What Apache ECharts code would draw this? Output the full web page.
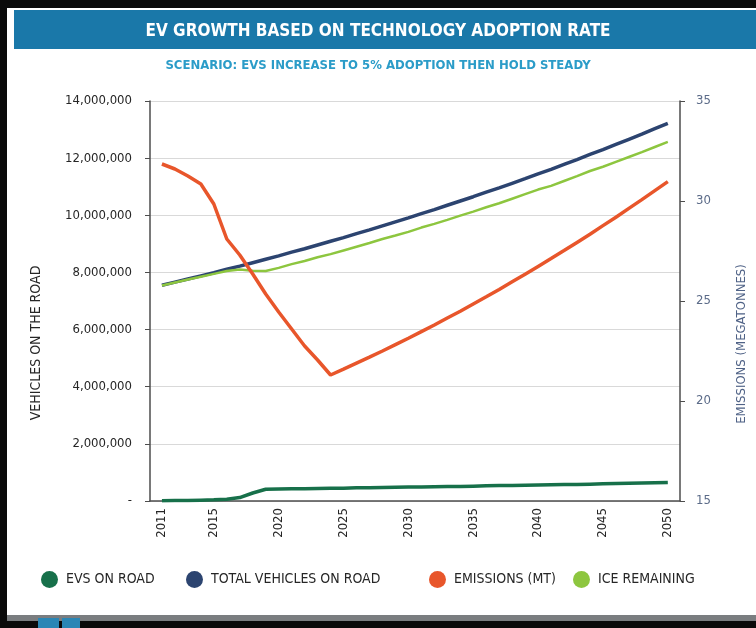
<!DOCTYPE html>
<html>
<head>
<meta charset="utf-8">
<script src="https://cdn.jsdelivr.net/npm/echarts@6/dist/echarts.min.js"></script>
<style>
html,body{margin:0;padding:0;background:#fff;}
#chart{width:756px;height:628px;}
</style>
</head>
<body>
<div id="chart"></div>
<script>
const titleText = 'EV GROWTH BASED ON TECHNOLOGY ADOPTION RATE';
const subtitleText = 'SCENARIO: EVS INCREASE TO 5% ADOPTION THEN HOLD STEADY';
const seriesNames = ['EVS ON ROAD', 'TOTAL VEHICLES ON ROAD', 'EMISSIONS (MT)', 'ICE REMAINING'];

const years = [2011,2012,2013,2014,2015,2016,2017,2018,2019,2020,
               2021,2022,2023,2024,2025,2026,2027,2028,2029,2030,
               2031,2032,2033,2034,2035,2036,2037,2038,2039,2040,
               2041,2042,2043,2044,2045,2046,2047,2048,2049,2050];
const xTickYears = [2011,2015,2020,2025,2030,2035,2040,2045,2050];

const evsOnRoad = [10000,15000,20000,30000,40000,60000,120000,280000,410000,420000,
                   430000,430000,440000,450000,450000,460000,460000,470000,480000,490000,
                   490000,500000,510000,510000,520000,530000,540000,540000,550000,560000,
                   570000,580000,580000,590000,600000,610000,620000,630000,640000,650000];
const totalVehicles = [7550000,7660000,7770000,7880000,7990000,8110000,8220000,8340000,8460000,8580000,
                       8710000,8830000,8960000,9090000,9220000,9360000,9490000,9630000,9770000,9910000,
                       10060000,10200000,10350000,10500000,10650000,10810000,10960000,11120000,11280000,11450000,
                       11610000,11780000,11950000,12130000,12300000,12480000,12660000,12840000,13030000,13220000];
const emissionsMt = [31.85,31.6,31.25,30.85,29.85,28.1,27.3,26.35,25.35,24.45,
                     23.6,22.75,22.05,21.3,21.59,21.89,22.19,22.5,22.82,23.14,
                     23.47,23.8,24.15,24.49,24.85,25.21,25.58,25.96,26.34,26.73,
                     27.12,27.52,27.93,28.34,28.77,29.19,29.63,30.07,30.52,30.97];
const iceRemaining = [7540000,7650000,7750000,7850000,7950000,8050000,8100000,8060000,8050000,8160000,
                      8290000,8400000,8530000,8640000,8770000,8900000,9030000,9170000,9290000,9420000,
                      9570000,9700000,9840000,9990000,10130000,10280000,10420000,10580000,10740000,10900000,
                      11030000,11200000,11370000,11550000,11700000,11870000,12040000,12210000,12390000,12570000];

const leftTicks = {min: 0, max: 14000000, interval: 2000000};
const rightTicks = {min: 15, max: 35, interval: 5};

const colors = ['#17704a', '#2c4470', '#e8562b', '#8dc63f'];
const FONT = "'DejaVu Sans Condensed', 'Liberation Sans Narrow', 'Roboto Condensed', 'DejaVu Sans', sans-serif";

const pair = (arr) => years.map((y, i) => [y, arr[i]]);

const chart = echarts.init(document.getElementById('chart'), null, {renderer: 'canvas'});

const legendLefts = [36, 181, 424, 568];

const option = {
  animation: false,
  backgroundColor: '#ffffff',
  textStyle: {fontFamily: FONT},
  graphic: [
    {type: 'rect', z: 0, shape: {x: 0, y: 0, width: 756, height: 8}, style: {fill: '#0a0a0a'}},
    {type: 'rect', z: 0, shape: {x: 0, y: 0, width: 7, height: 628}, style: {fill: '#0a0a0a'}},
    {type: 'rect', z: 0, shape: {x: 14, y: 10, width: 742, height: 39}, style: {fill: '#1a78a9'}},
    {type: 'rect', z: 0, shape: {x: 7, y: 615, width: 749, height: 6}, style: {fill: '#7a7d80'}},
    {type: 'rect', z: 0, shape: {x: 0, y: 621, width: 756, height: 7}, style: {fill: '#0a0a0a'}},
    {type: 'rect', z: 1, shape: {x: 38, y: 618, width: 21, height: 10}, style: {fill: '#2a86b5'}},
    {type: 'rect', z: 1, shape: {x: 62, y: 618, width: 18, height: 10}, style: {fill: '#2a86b5'}}
  ],
  title: [
    {
      text: titleText, left: 'center', top: 18, z: 10,
      textStyle: {color: '#ffffff', fontSize: 17, fontWeight: 'bold', fontFamily: FONT}
    },
    {
      text: subtitleText, left: 'center', top: 54, z: 10,
      textStyle: {color: '#2b9cc8', fontSize: 13, fontWeight: 'bold', fontFamily: FONT}
    }
  ],
  legend: seriesNames.map((n, i) => ({
    data: [n], left: legendLefts[i], top: 566, icon: 'circle',
    itemWidth: 17, itemHeight: 17, selectedMode: false,
    textStyle: {color: '#262626', fontSize: 14, fontFamily: FONT, padding: [0, 0, 0, 3]}
  })),
  grid: {left: 150, right: 72, top: 101, bottom: 127, containLabel: false},
  xAxis: {
    type: 'value', min: 2010.08, max: 2050.94,
    splitLine: {show: false},
    axisTick: {show: false},
    axisLine: {show: true, lineStyle: {color: '#4d4d4d', width: 1.5}},
    axisLabel: {
      customValues: xTickYears, rotate: 90, margin: 7,
      color: '#262626', fontSize: 13, fontFamily: FONT,
      formatter: (v) => String(v)
    }
  },
  yAxis: [
    {
      type: 'value', position: 'left',
      min: leftTicks.min, max: leftTicks.max, interval: leftTicks.interval,
      name: 'VEHICLES ON THE ROAD', nameLocation: 'middle', nameGap: 107, nameRotate: 90,
      nameTextStyle: {color: '#262626', fontSize: 14, fontFamily: FONT, padding: [0, 84, 0, 0]},
      axisLine: {show: true, lineStyle: {color: '#4d4d4d', width: 1.5}},
      axisTick: {show: true, length: 5, lineStyle: {color: '#4d4d4d'}},
      splitLine: {show: true, lineStyle: {color: '#d9d9d9', width: 1}},
      axisLabel: {
        color: '#262626', fontSize: 13, margin: 18, fontFamily: FONT,
        formatter: (v) => v === 0 ? '-' : v.toLocaleString('en-US')
      }
    },
    {
      type: 'value', position: 'right',
      min: rightTicks.min, max: rightTicks.max, interval: rightTicks.interval,
      name: 'EMISSIONS (MEGATONNES)', nameLocation: 'middle', nameGap: 55, nameRotate: 90,
      nameTextStyle: {color: '#4f6286', fontSize: 13, fontFamily: FONT, padding: [0, 86, 0, 0]},
      axisLine: {show: true, lineStyle: {color: '#4d4d4d', width: 1.5}},
      axisTick: {show: true, length: 5, lineStyle: {color: '#4d4d4d'}},
      splitLine: {show: false},
      axisLabel: {color: '#5b6b88', fontSize: 13, margin: 16, fontFamily: FONT}
    }
  ],
  series: [
    {
      name: seriesNames[0], type: 'line', yAxisIndex: 0, data: pair(evsOnRoad),
      showSymbol: false, z: 2, color: colors[0],
      lineStyle: {color: colors[0], width: 3.5}, itemStyle: {color: colors[0]}
    },
    {
      name: seriesNames[1], type: 'line', yAxisIndex: 0, data: pair(totalVehicles),
      showSymbol: false, z: 2, color: colors[1],
      lineStyle: {color: colors[1], width: 3.5}, itemStyle: {color: colors[1]}
    },
    {
      name: seriesNames[2], type: 'line', yAxisIndex: 1, data: pair(emissionsMt),
      showSymbol: false, z: 4, color: colors[2],
      lineStyle: {color: colors[2], width: 3.5}, itemStyle: {color: colors[2]}
    },
    {
      name: seriesNames[3], type: 'line', yAxisIndex: 0, data: pair(iceRemaining),
      showSymbol: false, z: 3, color: colors[3],
      lineStyle: {color: colors[3], width: 2.5}, itemStyle: {color: colors[3]}
    }
  ]
};
chart.setOption(option);
</script>
</body>
</html>
